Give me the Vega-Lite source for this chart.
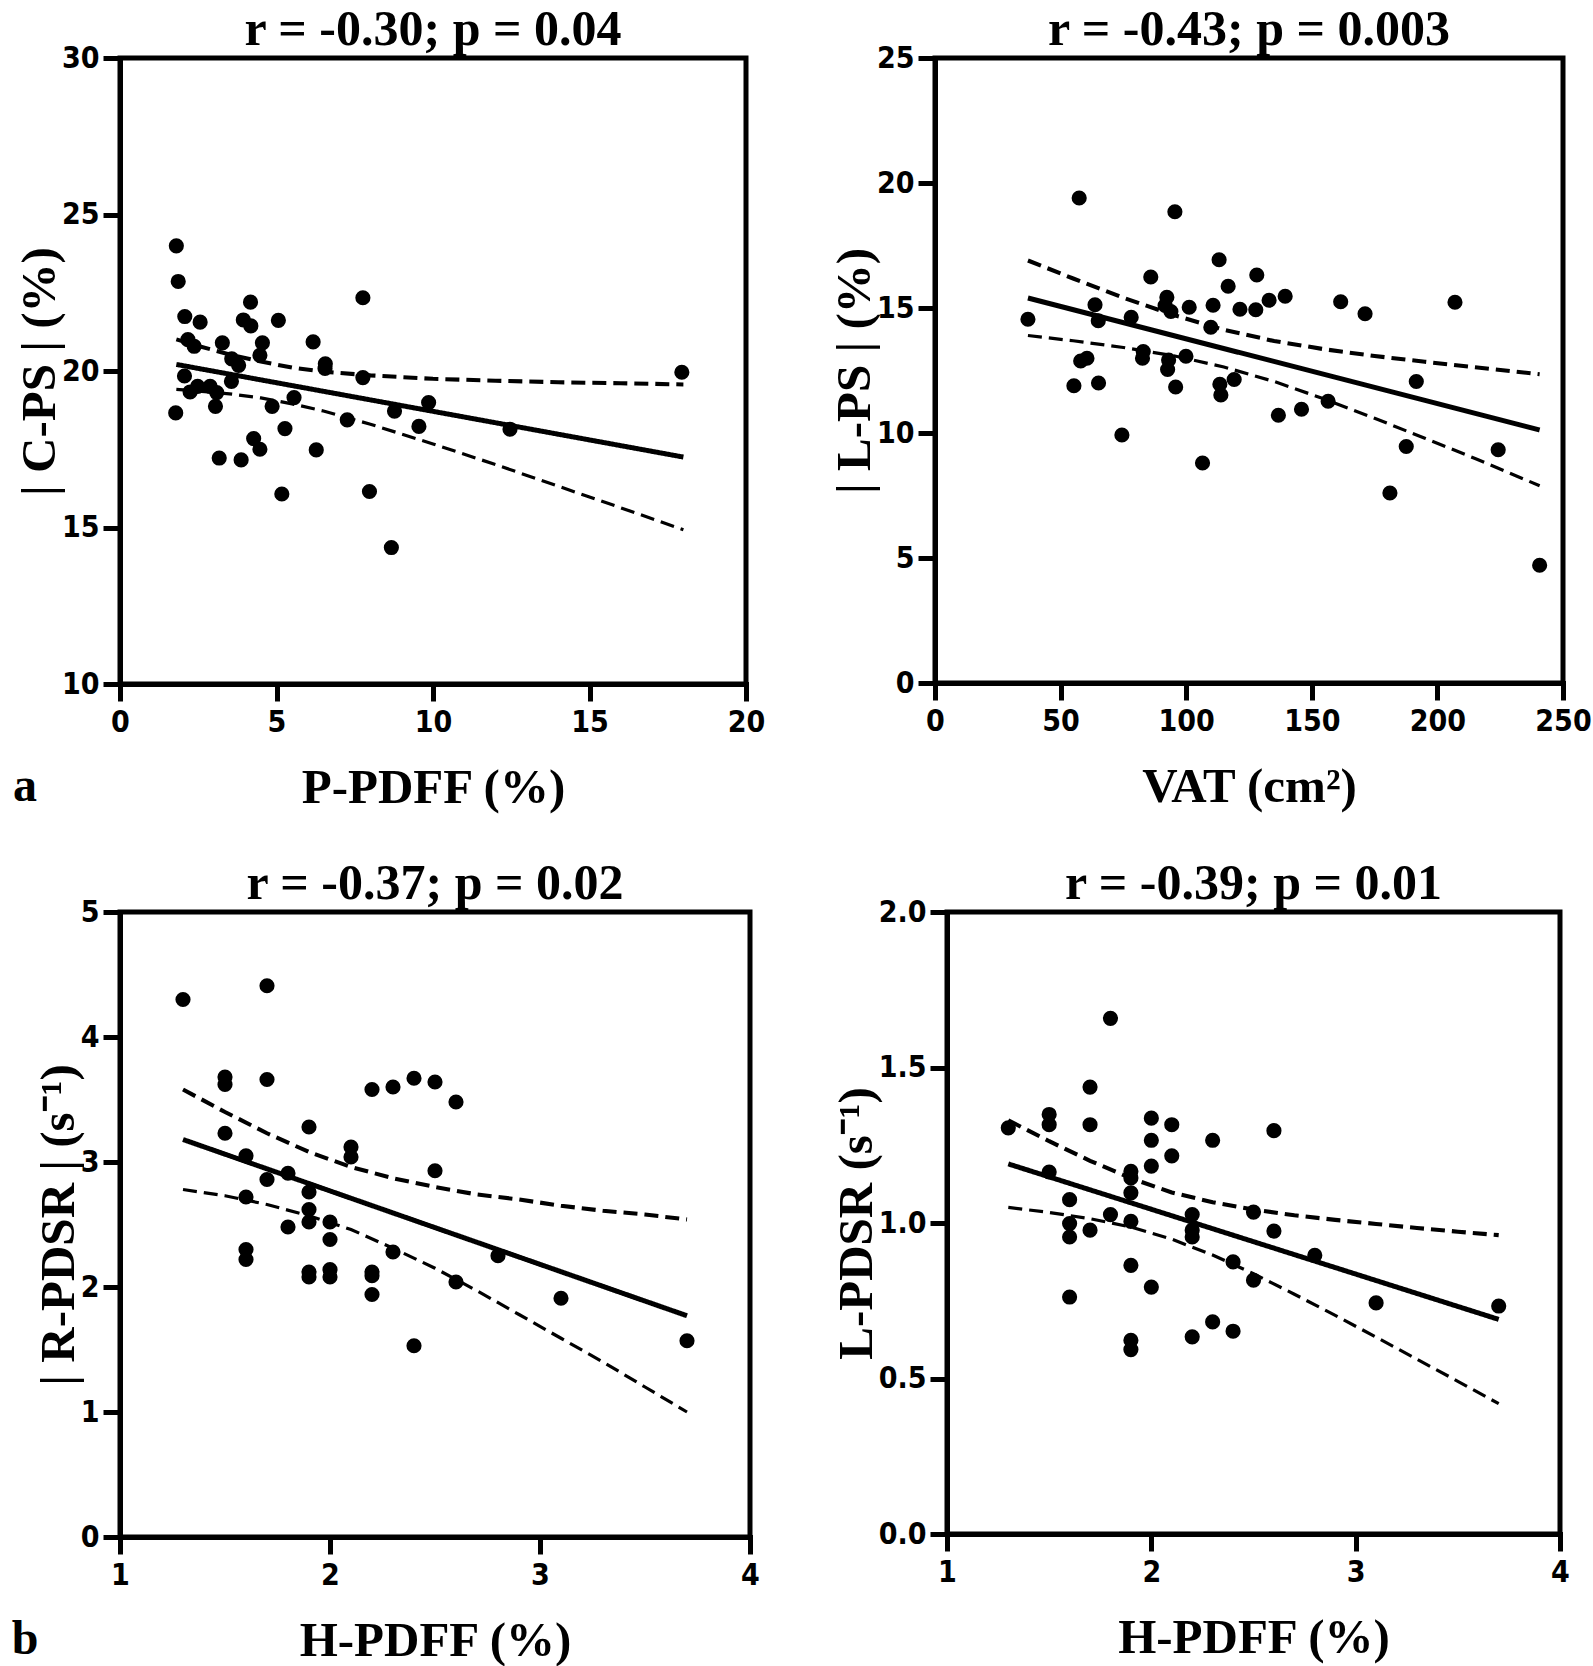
{
  "$schema": "https://vega.github.io/schema/vega-lite/v6.json",
  "background": "white",
  "padding": {"left": 11, "top": 2, "right": 4, "bottom": 2},
  "config": {
    "view": {"stroke": "black", "strokeWidth": 5},
    "axis": {
      "domainColor": "black", "domainWidth": 5, "domainCap": "square",
      "tickColor": "black", "tickWidth": 5, "tickSize": 17,
      "labelFont": "DejaVu Sans Condensed, Liberation Sans Narrow, sans-serif",
      "labelFontWeight": "bold", "labelFontSize": 30, "labelColor": "black",
      "titleFont": "Liberation Serif, Times New Roman, serif", "titleFontWeight": "bold",
      "titleFontSize": 49, "titleColor": "black",
      "grid": false, "labelFlush": false, "labelOverlap": false
    },
    "axisX": {"labelPadding": 6, "titlePadding": 26},
    "axisY": {"labelPadding": 4, "titlePadding": -3},
    "title": {"font": "Liberation Serif, Times New Roman, serif", "fontWeight": "bold", "fontSize": 50, "color": "black", "offset": -12, "anchor": "middle"}
  },
  "datasets": {
    "ptsA": [
      {"x": 1.8, "y": 24.0}, {"x": 1.86, "y": 22.86}, {"x": 2.07, "y": 21.74}, {"x": 2.56, "y": 21.56},
      {"x": 4.17, "y": 22.2}, {"x": 3.94, "y": 21.63}, {"x": 4.18, "y": 21.44}, {"x": 5.06, "y": 21.62},
      {"x": 7.76, "y": 22.34}, {"x": 2.17, "y": 21.0}, {"x": 2.37, "y": 20.79}, {"x": 3.27, "y": 20.9},
      {"x": 4.55, "y": 20.9}, {"x": 4.47, "y": 20.5}, {"x": 6.17, "y": 20.93}, {"x": 6.56, "y": 20.23},
      {"x": 6.55, "y": 20.08}, {"x": 3.57, "y": 20.39}, {"x": 3.79, "y": 20.18}, {"x": 7.76, "y": 19.79},
      {"x": 2.06, "y": 19.84}, {"x": 3.56, "y": 19.67}, {"x": 2.24, "y": 19.33}, {"x": 2.48, "y": 19.51},
      {"x": 2.88, "y": 19.51}, {"x": 3.09, "y": 19.31}, {"x": 3.05, "y": 18.87}, {"x": 1.78, "y": 18.66},
      {"x": 4.86, "y": 18.87}, {"x": 5.56, "y": 19.15}, {"x": 7.26, "y": 18.44}, {"x": 8.77, "y": 18.72},
      {"x": 9.86, "y": 18.99}, {"x": 9.55, "y": 18.23}, {"x": 12.46, "y": 18.14}, {"x": 5.27, "y": 18.16},
      {"x": 4.27, "y": 17.84}, {"x": 4.47, "y": 17.5}, {"x": 3.17, "y": 17.22}, {"x": 3.87, "y": 17.16},
      {"x": 6.27, "y": 17.48}, {"x": 5.17, "y": 16.07}, {"x": 7.97, "y": 16.15}, {"x": 8.67, "y": 14.36},
      {"x": 17.95, "y": 19.96}
    ],
    "lineA": [
      {"x": 1.8, "y": 20.21, "kind": "fit"}, {"x": 18, "y": 17.25, "kind": "fit"},
      {"x": 1.8, "y": 21.01, "kind": "upper"}, {"x": 2.5, "y": 20.8, "kind": "upper"}, {"x": 3.5, "y": 20.53, "kind": "upper"},
      {"x": 4.5, "y": 20.3, "kind": "upper"}, {"x": 5.5, "y": 20.11, "kind": "upper"}, {"x": 6.5, "y": 19.98, "kind": "upper"},
      {"x": 8, "y": 19.86, "kind": "upper"}, {"x": 10, "y": 19.75, "kind": "upper"}, {"x": 12, "y": 19.69, "kind": "upper"},
      {"x": 14, "y": 19.64, "kind": "upper"}, {"x": 16, "y": 19.61, "kind": "upper"}, {"x": 18, "y": 19.57, "kind": "upper"},
      {"x": 1.8, "y": 19.41, "kind": "lower"}, {"x": 2.5, "y": 19.36, "kind": "lower"}, {"x": 3.5, "y": 19.27, "kind": "lower"},
      {"x": 4.5, "y": 19.14, "kind": "lower"}, {"x": 5.5, "y": 18.95, "kind": "lower"}, {"x": 6.5, "y": 18.72, "kind": "lower"},
      {"x": 8, "y": 18.3, "kind": "lower"}, {"x": 10, "y": 17.67, "kind": "lower"}, {"x": 12, "y": 17.01, "kind": "lower"},
      {"x": 14, "y": 16.32, "kind": "lower"}, {"x": 16, "y": 15.63, "kind": "lower"}, {"x": 18, "y": 14.93, "kind": "lower"}
    ],
    "ptsB": [
      {"x": 57.4, "y": 19.4}, {"x": 95.5, "y": 18.85}, {"x": 113.1, "y": 16.93}, {"x": 85.9, "y": 16.24},
      {"x": 128.1, "y": 16.32}, {"x": 116.7, "y": 15.87}, {"x": 92.3, "y": 15.43}, {"x": 139.4, "y": 15.47},
      {"x": 133.0, "y": 15.31}, {"x": 161.5, "y": 15.25}, {"x": 207.0, "y": 15.23}, {"x": 63.7, "y": 15.13},
      {"x": 91.6, "y": 15.1}, {"x": 101.2, "y": 15.03}, {"x": 110.7, "y": 15.11}, {"x": 121.4, "y": 14.95},
      {"x": 127.7, "y": 14.93}, {"x": 93.9, "y": 14.86}, {"x": 37.0, "y": 14.55}, {"x": 65.0, "y": 14.49},
      {"x": 78.1, "y": 14.63}, {"x": 109.8, "y": 14.23}, {"x": 82.9, "y": 13.26}, {"x": 82.6, "y": 12.99},
      {"x": 93.0, "y": 12.92}, {"x": 99.9, "y": 13.07}, {"x": 60.5, "y": 12.99}, {"x": 58.0, "y": 12.88},
      {"x": 92.6, "y": 12.54}, {"x": 55.3, "y": 11.89}, {"x": 65.1, "y": 12.0}, {"x": 95.8, "y": 11.84},
      {"x": 113.4, "y": 11.95}, {"x": 113.8, "y": 11.52}, {"x": 119.1, "y": 12.14}, {"x": 156.5, "y": 11.27},
      {"x": 145.9, "y": 10.95}, {"x": 136.7, "y": 10.71}, {"x": 74.4, "y": 9.92}, {"x": 106.5, "y": 8.8},
      {"x": 171.2, "y": 14.77}, {"x": 191.6, "y": 12.06}, {"x": 187.6, "y": 9.46}, {"x": 224.2, "y": 9.33},
      {"x": 181.1, "y": 7.6}, {"x": 240.7, "y": 4.71}
    ],
    "lineB": [
      {"x": 37, "y": 15.4, "kind": "fit"}, {"x": 240.7, "y": 10.12, "kind": "fit"},
      {"x": 37, "y": 16.9, "kind": "upper"}, {"x": 55, "y": 16.18, "kind": "upper"}, {"x": 75, "y": 15.41, "kind": "upper"},
      {"x": 95, "y": 14.72, "kind": "upper"}, {"x": 115, "y": 14.13, "kind": "upper"}, {"x": 135, "y": 13.68, "kind": "upper"},
      {"x": 155, "y": 13.35, "kind": "upper"}, {"x": 175, "y": 13.08, "kind": "upper"}, {"x": 195, "y": 12.85, "kind": "upper"},
      {"x": 215, "y": 12.63, "kind": "upper"}, {"x": 240.7, "y": 12.35, "kind": "upper"},
      {"x": 37, "y": 13.9, "kind": "lower"}, {"x": 55, "y": 13.69, "kind": "lower"}, {"x": 75, "y": 13.42, "kind": "lower"},
      {"x": 95, "y": 13.09, "kind": "lower"}, {"x": 115, "y": 12.64, "kind": "lower"}, {"x": 135, "y": 12.06, "kind": "lower"},
      {"x": 155, "y": 11.36, "kind": "lower"}, {"x": 175, "y": 10.59, "kind": "lower"}, {"x": 195, "y": 9.79, "kind": "lower"},
      {"x": 215, "y": 8.98, "kind": "lower"}, {"x": 240.7, "y": 7.89, "kind": "lower"}
    ],
    "ptsC": [
      {"x": 1.3, "y": 4.3}, {"x": 1.7, "y": 4.41}, {"x": 1.5, "y": 3.68}, {"x": 1.5, "y": 3.62},
      {"x": 1.7, "y": 3.66}, {"x": 1.5, "y": 3.23}, {"x": 1.6, "y": 3.05}, {"x": 1.7, "y": 2.86},
      {"x": 1.8, "y": 2.91}, {"x": 1.6, "y": 2.72}, {"x": 1.9, "y": 3.28}, {"x": 1.9, "y": 2.76},
      {"x": 1.9, "y": 2.62}, {"x": 1.9, "y": 2.52}, {"x": 2.0, "y": 2.52}, {"x": 1.8, "y": 2.48},
      {"x": 2.0, "y": 2.38}, {"x": 2.1, "y": 3.12}, {"x": 2.1, "y": 3.04}, {"x": 2.2, "y": 3.58},
      {"x": 2.3, "y": 3.6}, {"x": 2.4, "y": 3.67}, {"x": 2.5, "y": 3.64}, {"x": 2.6, "y": 3.48},
      {"x": 2.5, "y": 2.93}, {"x": 1.6, "y": 2.3}, {"x": 1.6, "y": 2.22}, {"x": 1.9, "y": 2.12},
      {"x": 1.9, "y": 2.08}, {"x": 2.0, "y": 2.14}, {"x": 2.0, "y": 2.08}, {"x": 2.2, "y": 2.12},
      {"x": 2.2, "y": 2.09}, {"x": 2.2, "y": 1.94}, {"x": 2.3, "y": 2.28}, {"x": 2.6, "y": 2.04},
      {"x": 2.8, "y": 2.25}, {"x": 2.4, "y": 1.53}, {"x": 3.1, "y": 1.91}, {"x": 3.7, "y": 1.57}
    ],
    "lineC": [
      {"x": 1.3, "y": 3.18, "kind": "fit"}, {"x": 3.7, "y": 1.77, "kind": "fit"},
      {"x": 1.3, "y": 3.58, "kind": "upper"}, {"x": 1.5, "y": 3.4, "kind": "upper"}, {"x": 1.7, "y": 3.23, "kind": "upper"},
      {"x": 1.9, "y": 3.08, "kind": "upper"}, {"x": 2.1, "y": 2.96, "kind": "upper"}, {"x": 2.3, "y": 2.87, "kind": "upper"},
      {"x": 2.5, "y": 2.8, "kind": "upper"}, {"x": 2.7, "y": 2.74, "kind": "upper"}, {"x": 2.9, "y": 2.7, "kind": "upper"},
      {"x": 3.1, "y": 2.65, "kind": "upper"}, {"x": 3.3, "y": 2.61, "kind": "upper"}, {"x": 3.5, "y": 2.58, "kind": "upper"},
      {"x": 3.7, "y": 2.54, "kind": "upper"},
      {"x": 1.3, "y": 2.78, "kind": "lower"}, {"x": 1.5, "y": 2.73, "kind": "lower"}, {"x": 1.7, "y": 2.66, "kind": "lower"},
      {"x": 1.9, "y": 2.57, "kind": "lower"}, {"x": 2.1, "y": 2.46, "kind": "lower"}, {"x": 2.3, "y": 2.31, "kind": "lower"},
      {"x": 2.5, "y": 2.15, "kind": "lower"}, {"x": 2.7, "y": 1.97, "kind": "lower"}, {"x": 2.9, "y": 1.78, "kind": "lower"},
      {"x": 3.1, "y": 1.59, "kind": "lower"}, {"x": 3.3, "y": 1.4, "kind": "lower"}, {"x": 3.5, "y": 1.2, "kind": "lower"},
      {"x": 3.7, "y": 1.0, "kind": "lower"}
    ],
    "ptsD": [
      {"x": 1.3, "y": 1.306}, {"x": 1.8, "y": 1.658}, {"x": 1.7, "y": 1.437}, {"x": 1.5, "y": 1.349},
      {"x": 1.5, "y": 1.316}, {"x": 1.7, "y": 1.316}, {"x": 2.0, "y": 1.337}, {"x": 2.1, "y": 1.316},
      {"x": 2.3, "y": 1.266}, {"x": 2.6, "y": 1.297}, {"x": 2.0, "y": 1.266}, {"x": 2.1, "y": 1.216},
      {"x": 2.0, "y": 1.183}, {"x": 1.5, "y": 1.164}, {"x": 1.9, "y": 1.166}, {"x": 1.9, "y": 1.145},
      {"x": 1.9, "y": 1.097}, {"x": 1.6, "y": 1.075}, {"x": 1.8, "y": 1.027}, {"x": 1.9, "y": 1.005},
      {"x": 2.2, "y": 1.027}, {"x": 2.2, "y": 0.977}, {"x": 2.2, "y": 0.955}, {"x": 1.6, "y": 0.998},
      {"x": 1.6, "y": 0.955}, {"x": 1.7, "y": 0.977}, {"x": 2.5, "y": 1.035}, {"x": 2.6, "y": 0.974},
      {"x": 2.8, "y": 0.896}, {"x": 2.4, "y": 0.875}, {"x": 2.5, "y": 0.816}, {"x": 1.9, "y": 0.864},
      {"x": 2.0, "y": 0.794}, {"x": 1.6, "y": 0.762}, {"x": 2.3, "y": 0.682}, {"x": 2.4, "y": 0.652},
      {"x": 2.2, "y": 0.634}, {"x": 1.9, "y": 0.623}, {"x": 1.9, "y": 0.593}, {"x": 3.1, "y": 0.743},
      {"x": 3.7, "y": 0.733}
    ],
    "lineD": [
      {"x": 1.3, "y": 1.19, "kind": "fit"}, {"x": 3.7, "y": 0.69, "kind": "fit"},
      {"x": 1.3, "y": 1.33, "kind": "upper"}, {"x": 1.5, "y": 1.263, "kind": "upper"}, {"x": 1.7, "y": 1.2, "kind": "upper"},
      {"x": 1.9, "y": 1.144, "kind": "upper"}, {"x": 2.1, "y": 1.098, "kind": "upper"}, {"x": 2.3, "y": 1.067, "kind": "upper"},
      {"x": 2.5, "y": 1.043, "kind": "upper"}, {"x": 2.7, "y": 1.025, "kind": "upper"}, {"x": 2.9, "y": 1.01, "kind": "upper"},
      {"x": 3.1, "y": 0.997, "kind": "upper"}, {"x": 3.3, "y": 0.984, "kind": "upper"}, {"x": 3.5, "y": 0.972, "kind": "upper"},
      {"x": 3.7, "y": 0.961, "kind": "upper"},
      {"x": 1.3, "y": 1.05, "kind": "lower"}, {"x": 1.5, "y": 1.034, "kind": "lower"}, {"x": 1.7, "y": 1.014, "kind": "lower"},
      {"x": 1.9, "y": 0.987, "kind": "lower"}, {"x": 2.1, "y": 0.948, "kind": "lower"}, {"x": 2.3, "y": 0.897, "kind": "lower"},
      {"x": 2.5, "y": 0.837, "kind": "lower"}, {"x": 2.7, "y": 0.771, "kind": "lower"}, {"x": 2.9, "y": 0.703, "kind": "lower"},
      {"x": 3.1, "y": 0.633, "kind": "lower"}, {"x": 3.3, "y": 0.562, "kind": "lower"}, {"x": 3.5, "y": 0.491, "kind": "lower"},
      {"x": 3.7, "y": 0.419, "kind": "lower"}
    ]
  },
  "columns": 1,
  "align": "none",
  "spacing": 41,
  "concat": [
    {
      "title": {"text": "a", "orient": "bottom", "anchor": "start", "offset": -52, "fontSize": 48},
      "spacing": 59,
      "hconcat": [
        {
          "width": 626, "height": 626,
          "title": "r  = -0.30; p = 0.04",
          "encoding": {
            "x": {"field": "x", "type": "quantitative", "title": "P-PDFF (%)", "scale": {"domain": [0, 20], "nice": false, "zero": false}, "axis": {"values": [0, 5, 10, 15, 20]}},
            "y": {"field": "y", "type": "quantitative", "title": "| C-PS | (%)", "scale": {"domain": [10, 30], "nice": false, "zero": false}, "axis": {"values": [10, 15, 20, 25, 30]}}
          },
          "layer": [
            {
              "data": {"name": "lineA"},
              "mark": {"type": "line", "color": "black"},
              "encoding": {
                "detail": {"field": "kind"},
                "strokeDash": {"field": "kind", "scale": {"domain": ["fit", "upper", "lower"], "range": [[1, 0], [14, 7], [14, 7]]}, "legend": null},
                "strokeWidth": {"field": "kind", "scale": {"domain": ["fit", "upper", "lower"], "range": [5, 3.2, 3.2]}, "legend": null}
              }
            },
            {"data": {"name": "ptsA"}, "mark": {"type": "circle", "color": "black", "opacity": 1, "size": 230}}
          ]
        },
        {
          "width": 628, "height": 625,
          "title": "r  = -0.43; p = 0.003",
          "encoding": {
            "x": {"field": "x", "type": "quantitative", "title": "VAT (cm²)", "scale": {"domain": [0, 250], "nice": false}, "axis": {"values": [0, 50, 100, 150, 200, 250]}},
            "y": {"field": "y", "type": "quantitative", "title": "| L-PS | (%)", "scale": {"domain": [0, 25], "nice": false}, "axis": {"values": [0, 5, 10, 15, 20, 25]}}
          },
          "layer": [
            {
              "data": {"name": "lineB"},
              "mark": {"type": "line", "color": "black"},
              "encoding": {
                "detail": {"field": "kind"},
                "strokeDash": {"field": "kind", "scale": {"domain": ["fit", "upper", "lower"], "range": [[1, 0], [14, 7], [14, 7]]}, "legend": null},
                "strokeWidth": {"field": "kind", "scale": {"domain": ["fit", "upper", "lower"], "range": [5, 3.2, 3.2]}, "legend": null}
              }
            },
            {"data": {"name": "ptsB"}, "mark": {"type": "circle", "color": "black", "opacity": 1, "size": 230}}
          ]
        }
      ]
    },
    {
      "title": {"text": "b", "orient": "bottom", "anchor": "start", "offset": -52, "fontSize": 48, "dx": -20},
      "spacing": 67,
      "hconcat": [
        {
          "width": 630, "height": 625,
          "title": "r  = -0.37; p = 0.02",
          "encoding": {
            "x": {"field": "x", "type": "quantitative", "title": "H-PDFF (%)", "scale": {"domain": [1, 4], "nice": false, "zero": false}, "axis": {"values": [1, 2, 3, 4]}},
            "y": {"field": "y", "type": "quantitative", "title": "| R-PDSR | (s⁻¹)", "scale": {"domain": [0, 5], "nice": false}, "axis": {"values": [0, 1, 2, 3, 4, 5]}}
          },
          "layer": [
            {
              "data": {"name": "lineC"},
              "mark": {"type": "line", "color": "black"},
              "encoding": {
                "detail": {"field": "kind"},
                "strokeDash": {"field": "kind", "scale": {"domain": ["fit", "upper", "lower"], "range": [[1, 0], [14, 7], [14, 7]]}, "legend": null},
                "strokeWidth": {"field": "kind", "scale": {"domain": ["fit", "upper", "lower"], "range": [5, 3.2, 3.2]}, "legend": null}
              }
            },
            {"data": {"name": "ptsC"}, "mark": {"type": "circle", "color": "black", "opacity": 1, "size": 230}}
          ]
        },
        {
          "width": 613, "height": 622,
          "title": "r  = -0.39; p = 0.01",
          "encoding": {
            "x": {"field": "x", "type": "quantitative", "title": "H-PDFF (%)", "scale": {"domain": [1, 4], "nice": false, "zero": false}, "axis": {"values": [1, 2, 3, 4]}},
            "y": {"field": "y", "type": "quantitative", "title": "L-PDSR (s⁻¹)", "scale": {"domain": [0, 2], "nice": false}, "axis": {"values": [0, 0.5, 1, 1.5, 2], "format": ".1f"}}
          },
          "layer": [
            {
              "data": {"name": "lineD"},
              "mark": {"type": "line", "color": "black"},
              "encoding": {
                "detail": {"field": "kind"},
                "strokeDash": {"field": "kind", "scale": {"domain": ["fit", "upper", "lower"], "range": [[1, 0], [14, 7], [14, 7]]}, "legend": null},
                "strokeWidth": {"field": "kind", "scale": {"domain": ["fit", "upper", "lower"], "range": [5, 3.2, 3.2]}, "legend": null}
              }
            },
            {"data": {"name": "ptsD"}, "mark": {"type": "circle", "color": "black", "opacity": 1, "size": 230}}
          ]
        }
      ]
    }
  ]
}
